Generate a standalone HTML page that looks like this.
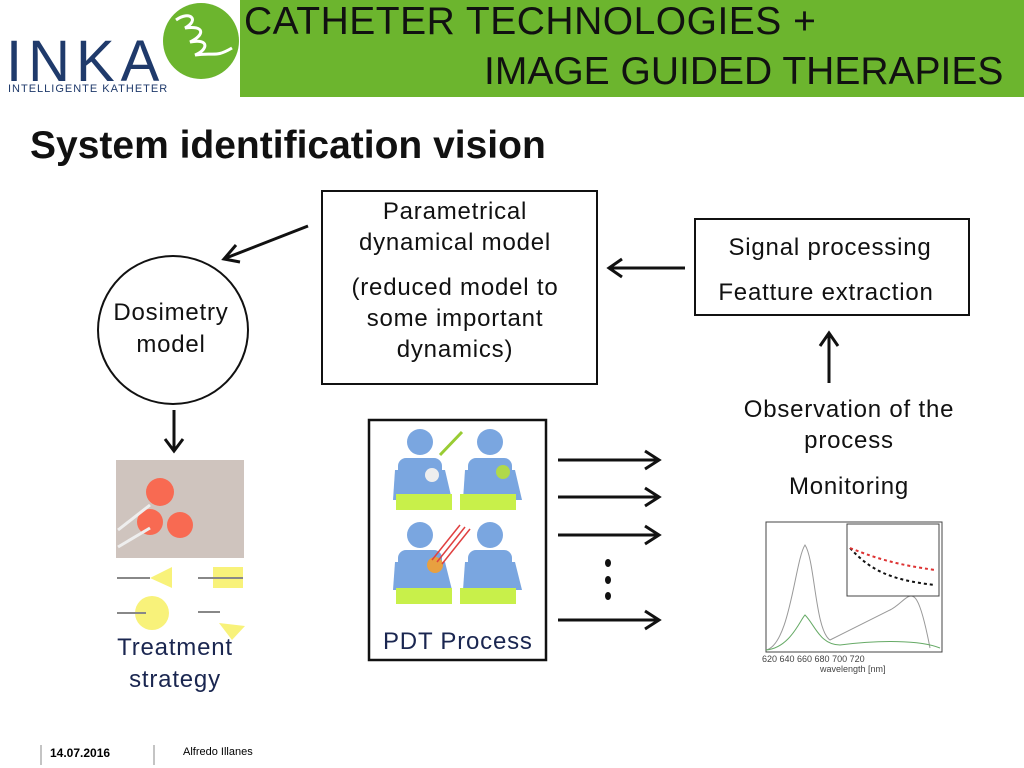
<!DOCTYPE html>
<html><head><style>
body{margin:0;width:1024px;height:768px;background:#fff;position:relative;overflow:hidden;font-family:"Liberation Sans",sans-serif}
.a{position:absolute}
.t{font-size:24px;letter-spacing:0.8px;color:#111;text-align:center;line-height:32px;white-space:nowrap}
</style></head><body>
<div class="a" style="left:240px;top:0;width:784px;height:97px;background:#6cb52e"></div>
<div class="a" style="left:244px;top:0px;font-size:39px;line-height:44px;color:#111;white-space:nowrap;letter-spacing:0.5px">CATHETER TECHNOLOGIES +</div>
<div class="a" style="left:484px;top:50px;font-size:39px;line-height:44px;color:#111;white-space:nowrap">IMAGE GUIDED THERAPIES</div>
<div class="a" style="left:163px;top:3px;width:76px;height:76px;border-radius:50%;background:#6cb52e"></div>
<svg class="a" style="left:160px;top:0" width="90" height="90"><path d="M16 20 C30 10 40 20 25 28 C45 25 45 35 30 42 C50 38 48 50 35 55 C55 52 55 58 72 48" stroke="#fff" stroke-width="3" fill="none"/></svg>
<div class="a" style="left:6px;top:32px;font-size:58px;letter-spacing:6px;color:#1f3a6b;line-height:60px">INKA</div>
<div class="a" style="left:8px;top:83px;font-size:11px;color:#1f3a6b;letter-spacing:1px">INTELLIGENTE KATHETER</div>
<div class="a" style="left:30px;top:124px;font-size:39px;font-weight:bold;color:#111;white-space:nowrap">System identification vision</div>

<div class="a" style="left:321px;top:190px;width:273px;height:191px;border:2.5px solid #111"></div>
<div class="a t" style="left:321px;top:196px;width:268px;line-height:31px">Parametrical<br>dynamical model</div>
<div class="a t" style="left:321px;top:272px;width:268px;line-height:31px">(reduced model to<br>some important<br>dynamics)</div>
<div class="a" style="left:694px;top:218px;width:272px;height:94px;border:2.5px solid #111"></div>
<div class="a t" style="left:694px;top:232px;width:272px">Signal processing</div>
<div class="a t" style="left:694px;top:277px;width:264px">Featture extraction</div>
<div class="a" style="left:97px;top:255px;width:148px;height:146px;border:2.5px solid #111;border-radius:50%"></div>
<div class="a t" style="left:97px;top:297px;width:148px">Dosimetry<br>model</div>
<div class="a t" style="left:720px;top:394px;width:258px;line-height:31px">Observation of the<br>process</div>
<div class="a t" style="left:720px;top:471px;width:258px">Monitoring</div>

<svg class="a" style="left:0;top:0" width="1024" height="768">
<g stroke="#111" stroke-width="3" fill="none">
<line x1="308" y1="226" x2="226" y2="258"/><polyline points="236,245 224,259 240,262"/>
<line x1="685" y1="268" x2="610" y2="268"/><polyline points="622,259 609,268 622,277"/>
<line x1="829" y1="383" x2="829" y2="335"/><polyline points="820,346 829,333 838,346"/>
<line x1="174" y1="410" x2="174" y2="450"/><polyline points="165,439 174,451 183,439"/>
<line x1="558" y1="460" x2="658" y2="460"/><polyline points="645,451 659,460 645,469"/>
<line x1="558" y1="497" x2="658" y2="497"/><polyline points="645,488 659,497 645,506"/>
<line x1="558" y1="535" x2="658" y2="535"/><polyline points="645,526 659,535 645,544"/>
<line x1="558" y1="620" x2="658" y2="620"/><polyline points="645,611 659,620 645,629"/>
</g>
<g fill="#111"><ellipse cx="608" cy="563" rx="3" ry="4"/><ellipse cx="608" cy="580" rx="3" ry="4"/><ellipse cx="608" cy="596" rx="3" ry="4"/></g>
<rect x="369" y="420" width="177" height="240" fill="none" stroke="#111" stroke-width="2.5"/>
<g fill="#7aa6e0">
<circle cx="420" cy="442" r="13"/><path d="M395 470 L445 470 L452 500 L393 500Z"/><rect x="398" y="458" width="44" height="20" rx="8"/>
<circle cx="490" cy="442" r="13"/><path d="M465 470 L515 470 L522 500 L463 500Z"/><rect x="468" y="458" width="44" height="20" rx="8"/>
<circle cx="420" cy="535" r="13"/><path d="M395 562 L445 562 L452 590 L393 590Z"/><rect x="398" y="550" width="44" height="20" rx="8"/>
<circle cx="490" cy="535" r="13"/><path d="M465 562 L515 562 L522 590 L463 590Z"/><rect x="468" y="550" width="44" height="20" rx="8"/>
</g>
<g fill="#c8f04a"><rect x="396" y="494" width="56" height="16"/><rect x="460" y="494" width="56" height="16"/><rect x="396" y="588" width="56" height="16"/><rect x="460" y="588" width="56" height="16"/></g>
<g fill="#b0d94a"><circle cx="432" cy="475" r="7" fill="#eee"/><circle cx="503" cy="472" r="7"/><circle cx="435" cy="565" r="8" fill="#e8a040"/></g>
<line x1="440" y1="455" x2="462" y2="432" stroke="#9c3" stroke-width="3"/>
<g stroke="#e04040" stroke-width="1.5"><line x1="432" y1="560" x2="460" y2="525"/><line x1="437" y1="562" x2="465" y2="527"/><line x1="442" y1="564" x2="470" y2="529"/></g>
<rect x="116" y="460" width="128" height="98" fill="#cfc4be"/>
<circle cx="160" cy="492" r="14" fill="#ff5a40" opacity=".85"/><circle cx="150" cy="522" r="13" fill="#ff5a40" opacity=".85"/><circle cx="180" cy="525" r="13" fill="#ff5a40" opacity=".85"/>
<g stroke="#eee" stroke-width="3"><line x1="118" y1="530" x2="150" y2="505"/><line x1="118" y1="547" x2="150" y2="528"/></g>
<g fill="#f8f27a"><polygon points="150,578 172,567 172,588"/><rect x="213" y="567" width="30" height="21"/><circle cx="152" cy="613" r="17"/><polygon points="219,623 245,626 232,640"/></g>
<g stroke="#888" stroke-width="2"><line x1="117" y1="578" x2="150" y2="578"/><line x1="198" y1="578" x2="243" y2="578"/><line x1="117" y1="613" x2="146" y2="613"/><line x1="198" y1="612" x2="220" y2="612"/></g>
<rect x="766" y="522" width="176" height="130" fill="none" stroke="#444" stroke-width="1"/>
<path d="M766 650 C790 645 795 560 805 545 C815 560 815 630 830 640 C850 630 870 620 890 610 C910 600 915 570 930 648" stroke="#999" fill="none"/>
<path d="M766 650 C790 648 800 620 805 615 C815 625 820 645 840 645 C880 640 920 640 940 648" stroke="#6a6" fill="none"/>
<rect x="847" y="524" width="92" height="72" fill="#fff" stroke="#444"/>
<path d="M850 548 C870 570 890 580 935 585" stroke="#111" stroke-dasharray="3 3" fill="none" stroke-width="2"/>
<path d="M850 548 C880 560 900 565 935 570" stroke="#d33" stroke-dasharray="3 3" fill="none" stroke-width="2"/>
<line x1="41" y1="745" x2="41" y2="765" stroke="#888"/><line x1="154" y1="745" x2="154" y2="765" stroke="#888"/>
</svg>
<div class="a" style="left:762px;top:654px;font-size:9px;color:#444">620 640 660 680 700 720</div>
<div class="a" style="left:820px;top:664px;font-size:9px;color:#444">wavelength [nm]</div>
<div class="a t" style="left:100px;top:632px;width:150px;color:#1a2650">Treatment<br>strategy</div>
<div class="a t" style="left:383px;top:626px;color:#1a2650">PDT Process</div>
<div class="a" style="left:50px;top:746px;font-size:12px;font-weight:bold">14.07.2016</div>
<div class="a" style="left:183px;top:746px;font-size:11px">Alfredo Illanes</div>
</body></html>
